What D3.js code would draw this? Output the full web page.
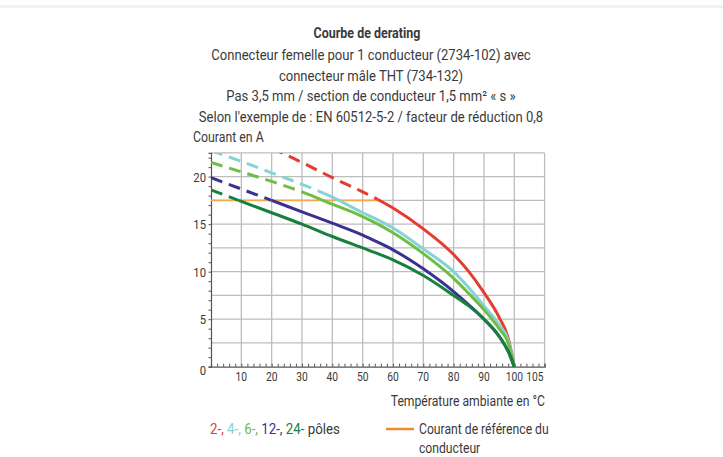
<!DOCTYPE html>
<html>
<head>
<meta charset="utf-8">
<script src="https://cdn.jsdelivr.net/npm/d3@7"></script>
<style>
  body { margin: 0; background: #fff; }
  svg { display: block; font-family: "Roboto", "Liberation Sans", sans-serif; }
</style>
</head>
<body>
<div id="display"></div>
<script>
// data
const tempC = [0, 10, 20, 30, 40, 50, 55, 60, 70, 80, 85, 90, 95, 98, 100];
const pole2  = [null, null, 23.0, 21.5, 19.9, 18.4, 17.6, 16.7, 14.5, 11.8, 10.0, 7.8, 5.2, 3.0, 0];
const pole4  = [22.75, 21.6, 20.4, 19.2, 17.85, 16.2, 15.45, 14.6, 12.4, 10.0, 8.3, 6.4, 4.4, 2.8, 0];
const pole6  = [21.5, 20.5, 19.5, 18.4, 17.1, 15.8, 15.0, 14.1, 11.9, 9.3, 7.7, 6.0, 4.0, 2.5, 0];
const pole12 = [19.9, 18.7, 17.5, 16.3, 15.1, 13.85, 13.1, 12.3, 10.3, 7.9, 6.5, 5.0, 3.2, 1.6, 0];
const pole24 = [18.6, 17.4, 16.2, 15.0, 13.7, 12.5, 11.9, 11.25, 9.6, 7.5, 6.4, 5.0, 3.2, 1.6, 0];
const seriesNames = ['2-,', '4-,', '6-,', '12-,', '24-'];
const seriesValues = [pole2, pole4, pole6, pole12, pole24];
const dashEnd = [55, 37.5, 30, 20, 9];   // dashed above reference current
const seriesColors = ['#e63c2e', '#86d3d3', '#6fbe44', '#3a3190', '#17803d'];
const refCurrent = 17.5;
const refEnd = 55;
const xTicks = [10, 20, 30, 40, 50, 60, 70, 80, 90, 100, 105];
const yTicks = [0, 5, 10, 15, 20];

const titleLines = [
    'Connecteur femelle pour 1 conducteur (2734-102) avec',
    'connecteur mâle THT (734-132)',
    'Pas 3,5 mm / section de conducteur 1,5 mm² « s »',
    'Selon l\'exemple de : EN 60512-5-2 / facteur de réduction 0,8'
];

const width = 723;
const height = 457;
const svg = d3.select('#display').append('svg')
    .attr('width', width)
    .attr('height', height);

const textColor = '#3a3a3a';

// narrow the text horizontally around its anchor point
function squeeze(sel, k) {
    sel.attr('transform', function () {
        const ax = +d3.select(this).attr('x');
        return `translate(${ax},0) scale(${k},1) translate(${-ax},0)`;
    });
}

// faint band at top
svg.append('rect').attr('x', 0).attr('y', 5).attr('width', width).attr('height', 3).attr('fill', '#f2f2f2');

// last column 100..105 is drawn as wide as a 10 degree column
const x = d3.scaleLinear().domain([0, 100, 105]).range([211, 514.3, 544.6]);
const y = d3.scaleLinear().domain([0, 22.5]).range([366.7, 152.9]);

// titles
svg.append('text')
    .attr('x', 367).attr('y', 38)
    .attr('text-anchor', 'middle')
    .attr('font-size', 14.5).attr('font-weight', 'bold')
    .attr('fill', textColor)
    .text('Courbe de derating')
    .call(squeeze, 0.86);

svg.selectAll('.sub')
    .data(titleLines)
    .enter()
    .append('text')
    .attr('class', 'sub')
    .attr('x', 371)
    .attr('y', (d, i) => 60 + i * 20.7)
    .attr('text-anchor', 'middle')
    .attr('font-size', 14.5)
    .attr('fill', textColor)
    .text(d => d)
    .call(squeeze, 0.9);

svg.append('text')
    .attr('x', 193).attr('y', 142)
    .attr('font-size', 14.5).attr('fill', textColor)
    .text('Courant en A')
    .call(squeeze, 0.85);

// grid
const grid = svg.append('g').attr('stroke', '#bdbdbd').attr('stroke-width', 1.3);
grid.selectAll('.vg')
    .data(xTicks)
    .enter()
    .append('line')
    .attr('x1', d => x(d)).attr('x2', d => x(d))
    .attr('y1', y(0)).attr('y2', y(22.5));
grid.selectAll('.hg')
    .data(d3.range(2.5, 22.6, 2.5))
    .enter()
    .append('line')
    .attr('x1', x(0)).attr('x2', x(105))
    .attr('y1', d => y(d)).attr('y2', d => y(d));

// axes with small minor ticks
const xAxis = svg.append('g')
    .attr('transform', `translate(0,${y(0)})`)
    .call(d3.axisBottom(x).tickValues(d3.range(0, 101, 2).concat([101, 102, 103, 104, 105])).tickSize(-3).tickFormat(''));
xAxis.select('.domain').attr('stroke', '#555').attr('stroke-width', 1.2);
xAxis.selectAll('.tick line').attr('stroke', '#555');

const yAxis = svg.append('g')
    .attr('transform', `translate(${x(0)},0)`)
    .call(d3.axisLeft(y).tickValues(d3.range(0, 23, 1)).tickSize(2.5).tickFormat(''));
yAxis.select('.domain').attr('stroke', '#555').attr('stroke-width', 1.2);
yAxis.selectAll('.tick line').attr('stroke', '#555');

// tick labels
svg.selectAll('.xl')
    .data(xTicks)
    .enter()
    .append('text')
    .attr('x', d => d === 105 ? x(d) - 1 : x(d))
    .attr('y', 381)
    .attr('text-anchor', d => d === 105 ? 'end' : 'middle')
    .attr('font-size', 13.5)
    .attr('fill', textColor)
    .text(d => d)
    .call(squeeze, 0.76);

svg.selectAll('.yl')
    .data(yTicks)
    .enter()
    .append('text')
    .attr('x', 206)
    .attr('y', d => y(d) + (d === 0 ? 8 : 5))
    .attr('text-anchor', 'end')
    .attr('font-size', 13.5)
    .attr('fill', textColor)
    .text(d => d)
    .call(squeeze, 0.84);

svg.append('text')
    .attr('x', 545).attr('y', 406)
    .attr('text-anchor', 'end')
    .attr('font-size', 14.5).attr('fill', textColor)
    .text('Température ambiante en °C')
    .call(squeeze, 0.84);

// clip regions for dashed / solid parts
const defs = svg.append('defs');
dashEnd.forEach(function (e, i) {
    defs.append('clipPath').attr('id', 'dash' + i)
        .append('rect')
        .attr('x', x(0)).attr('y', y(22.5))
        .attr('width', x(e) - x(0)).attr('height', y(0) - y(22.5) + 4);
    defs.append('clipPath').attr('id', 'solid' + i)
        .append('rect')
        .attr('x', x(e)).attr('y', y(22.5))
        .attr('width', x(105) - x(e)).attr('height', y(0) - y(22.5) + 4);
});

// reference current line
svg.append('line')
    .attr('x1', x(0)).attr('x2', x(refEnd))
    .attr('y1', y(refCurrent)).attr('y2', y(refCurrent))
    .attr('stroke', '#f5a94e').attr('stroke-width', 1.8);

const line = d3.line()
    .defined(d => d[1] !== null)
    .x(d => x(d[0]))
    .y(d => y(d[1]))
    .curve(d3.curveMonotoneX);

// 24-pole drawn last so it covers where 12-pole merges
seriesValues.forEach(function (vals, i) {
    const pts = tempC.map((t, k) => [t, vals[k]]);
    svg.append('path')
        .attr('d', line(pts))
        .attr('clip-path', `url(#dash${i})`)
        .attr('fill', 'none')
        .attr('stroke', seriesColors[i])
        .attr('stroke-width', 3)
        .attr('stroke-dasharray', '12,7');
    svg.append('path')
        .attr('d', line(pts))
        .attr('clip-path', `url(#solid${i})`)
        .attr('fill', 'none')
        .attr('stroke', seriesColors[i])
        .attr('stroke-width', 3);
});

// legend
const leg = svg.append('text')
    .attr('x', 210).attr('y', 434)
    .attr('font-size', 14.5)
    .attr('textLength', 130)
    .attr('lengthAdjust', 'spacingAndGlyphs');
seriesNames.forEach(function (n, i) {
    leg.append('tspan').attr('fill', seriesColors[i]).text(n + ' ');
});
leg.append('tspan').attr('fill', textColor).text('pôles');

svg.append('line')
    .attr('x1', 386).attr('x2', 414)
    .attr('y1', 429).attr('y2', 429)
    .attr('stroke', '#ef8a32').attr('stroke-width', 2.5);
svg.append('text')
    .attr('x', 419).attr('y', 434)
    .attr('font-size', 14.5).attr('fill', textColor)
    .text('Courant de référence du')
    .call(squeeze, 0.84);
svg.append('text')
    .attr('x', 419).attr('y', 453)
    .attr('font-size', 14.5).attr('fill', textColor)
    .text('conducteur')
    .call(squeeze, 0.84);
</script>
</body>
</html>
